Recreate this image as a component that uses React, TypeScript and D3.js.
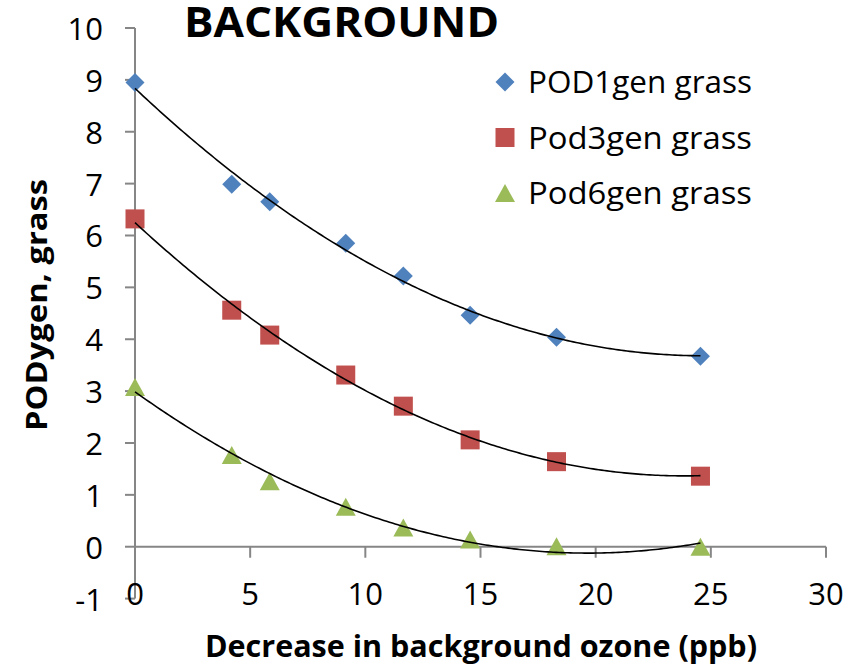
import React from "react";
import * as d3 from "d3";

const xValues = [0, 4.2, 5.85, 9.15, 11.65, 14.55, 18.3, 24.55];
const pod1 = [8.95, 6.99, 6.65, 5.85, 5.22, 4.46, 4.04, 3.67];
const pod3 = [6.32, 4.56, 4.08, 3.31, 2.71, 2.06, 1.64, 1.36];
const pod6 = [3.08, 1.77, 1.26, 0.77, 0.37, 0.14, 0.01, 0.0];
const seriesNames = ["POD1gen grass", "Pod3gen grass", "Pod6gen grass"];
const seriesColors = ["#4F81BD", "#C0504D", "#9BBB59"];
const seriesShapes = ["diamond", "square", "triangle"];
const xTicks = [0, 5, 10, 15, 20, 25, 30];
const yTicks = [-1, 0, 1, 2, 3, 4, 5, 6, 7, 8, 9, 10];
const title = "BACKGROUND";
const xTitle = "Decrease in background ozone (ppb)";
const yTitle = "PODygen, grass";

function polyFit2(xs: number[], ys: number[]) {
  // least squares quadratic fit: y = a + b x + c x^2
  let s0 = 0, s1 = 0, s2 = 0, s3 = 0, s4 = 0, t0 = 0, t1 = 0, t2 = 0;
  xs.forEach((x, i) => {
    const y = ys[i];
    s0 += 1; s1 += x; s2 += x * x; s3 += x * x * x; s4 += x * x * x * x;
    t0 += y; t1 += x * y; t2 += x * x * y;
  });
  const M = [
    [s0, s1, s2, t0],
    [s1, s2, s3, t1],
    [s2, s3, s4, t2],
  ];
  for (let i = 0; i < 3; i++) {
    let p = i;
    for (let r = i + 1; r < 3; r++) if (Math.abs(M[r][i]) > Math.abs(M[p][i])) p = r;
    [M[i], M[p]] = [M[p], M[i]];
    for (let r = 0; r < 3; r++) {
      if (r === i) continue;
      const f = M[r][i] / M[i][i];
      for (let c = i; c < 4; c++) M[r][c] -= f * M[i][c];
    }
  }
  const a = M[0][3] / M[0][0], b = M[1][3] / M[1][1], c = M[2][3] / M[2][2];
  return (x: number) => a + b * x + c * x * x;
}

function Marker({ shape, color, x, y }: { shape: string; color: string; x: number; y: number }) {
  if (shape === "diamond") {
    const h = 9.5;
    return <path d={`M${x},${y - h}L${x + h},${y}L${x},${y + h}L${x - h},${y}Z`} fill={color} />;
  }
  if (shape === "square") {
    const h = 9.5;
    return <rect x={x - h} y={y - h} width={2 * h} height={2 * h} fill={color} />;
  }
  const w = 10, hh = 9;
  return <path d={`M${x},${y - hh}L${x + w},${y + hh}L${x - w},${y + hh}Z`} fill={color} />;
}

export default function App() {
  const x = d3.scaleLinear().domain([0, 30]).range([135, 826]);
  const y = d3.scaleLinear().domain([-1, 10]).range([598.6, 28]);
  const axisColor = "#868686";
  const series = [pod1, pod3, pod6];
  const font = "'Open Sans', sans-serif";

  const xMin = d3.min(xValues)!, xMax = d3.max(xValues)!;
  const samples = d3.range(0, 201).map((i) => xMin + ((xMax - xMin) * i) / 200);
  const line = d3
    .line<[number, number]>()
    .x((d) => x(d[0]))
    .y((d) => y(d[1]));

  return (
    <svg width={860} height={665} style={{ position: "absolute", left: 0, top: 0, background: "#fff" }}>
      <rect x={0} y={0} width={860} height={665} fill="#fff" />
      {/* y axis */}
      <line x1={x(0)} x2={x(0)} y1={y(10)} y2={y(-1)} stroke={axisColor} strokeWidth={2} />
      {yTicks.map((t) => (
        <g key={"yt" + t}>
          <line x1={x(0) - 10} x2={x(0)} y1={y(t)} y2={y(t)} stroke={axisColor} strokeWidth={2} />
          <text x={103} y={y(t)} textAnchor="end" dominantBaseline="central" fontFamily={font} fontSize={31} fill="#000">
            {t}
          </text>
        </g>
      ))}
      {/* x axis at y=0 */}
      <line x1={x(0)} x2={x(30)} y1={y(0)} y2={y(0)} stroke={axisColor} strokeWidth={2} />
      {xTicks.map((t) => (
        <g key={"xt" + t}>
          <line x1={x(t)} x2={x(t)} y1={y(0)} y2={y(0) + 11} stroke={axisColor} strokeWidth={2} />
          <text x={x(t)} y={593} textAnchor="middle" dominantBaseline="central" fontFamily={font} fontSize={31} fill="#000">
            {t}
          </text>
        </g>
      ))}
      {/* markers */}
      {series.map((vals, si) =>
        vals.map((v, i) => (
          <Marker key={`m${si}-${i}`} shape={seriesShapes[si]} color={seriesColors[si]} x={x(xValues[i])} y={y(v)} />
        ))
      )}
      {/* trendlines */}
      {series.map((vals, si) => {
        const f = polyFit2(xValues, vals);
        const pts = samples.map((s) => [s, f(s)] as [number, number]);
        return <path key={"tl" + si} d={line(pts)!} fill="none" stroke="#000" strokeWidth={1.6} />;
      })}
      {/* legend */}
      {seriesNames.map((n, i) => {
        const ly = 82 + i * 55.5;
        return (
          <g key={"lg" + i}>
            <Marker shape={seriesShapes[i]} color={seriesColors[i]} x={505} y={ly} />
            <text x={528} y={ly + 11} fontFamily={font} fontSize={31} fill="#000" textLength={224} lengthAdjust="spacingAndGlyphs">
              {n}
            </text>
          </g>
        );
      })}
      {/* titles */}
      <text x={184} y={37} fontFamily={font} fontWeight="bold" fontSize={42} fill="#000" textLength={315} lengthAdjust="spacingAndGlyphs">
        {title}
      </text>
      <text x={481} y={657} textAnchor="middle" fontFamily={font} fontWeight="bold" fontSize={31} fill="#000" textLength={552} lengthAdjust="spacingAndGlyphs">
        {xTitle}
      </text>
      <text
        transform={`translate(47,305) rotate(-90)`}
        textAnchor="middle"
        fontFamily={font}
        fontWeight="bold"
        fontSize={29}
        fill="#000"
        textLength={252}
        lengthAdjust="spacingAndGlyphs"
      >
        {yTitle}
      </text>
    </svg>
  );
}
